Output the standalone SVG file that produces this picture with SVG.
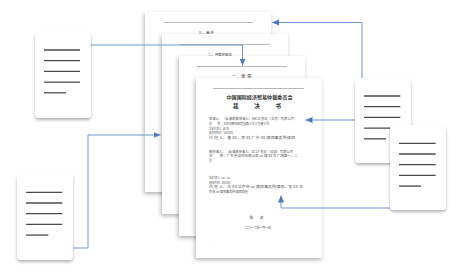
<svg xmlns="http://www.w3.org/2000/svg" width="450" height="270" viewBox="0 0 450 270">
  <style>
    .page { fill: #ffffff; filter: url(#pageShadow); }
    .rule { stroke: #b8b8b8; stroke-width: 1; }
    .head { font-family: "Noto Sans CJK SC", "Noto Sans", sans-serif; fill: #333333; text-anchor: middle; }
    .body { font-family: "Noto Sans CJK SC", "Noto Sans", sans-serif; font-size: 3.2px; fill: #555555; }
    .card { fill: #ffffff; filter: url(#cardShadow); }
    .bar { stroke: #4a4a4a; stroke-width: 1.3; stroke-linecap: butt; }
    .link { fill: none; stroke: #6f97d3; stroke-width: 1; }
  </style>
  <defs>
    <filter id="pageShadow" x="-20%" y="-20%" width="140%" height="140%">
      <feDropShadow dx="-1" dy="2" stdDeviation="2" flood-color="#000000" flood-opacity="0.3"/>
    </filter>
    <filter id="cardShadow" x="-30%" y="-30%" width="160%" height="160%">
      <feDropShadow dx="0" dy="2" stdDeviation="1.8" flood-color="#000000" flood-opacity="0.3"/>
    </filter>
    <marker id="arrow" viewBox="0 0 8 7" refX="8" refY="3.5" markerWidth="7" markerHeight="6.5" markerUnits="userSpaceOnUse" orient="auto">
      <path d="M0,0 L8,3.5 L0,7 z" fill="#4a7cc4"/>
    </marker>
  </defs>

  <!-- stacked award pages, back to front -->
  <g id="page-award">
    <rect class="page" x="145" y="12" width="126" height="180"/>
    <line class="rule" x1="164" y1="22.5" x2="253" y2="22.5"/>
    <text class="head" x="206" y="33.5" font-size="3.8">三、裁决</text>
  </g>
  <g id="page-opinion">
    <rect class="page" x="162" y="34" width="126" height="180"/>
    <line class="rule" x1="180" y1="44.5" x2="270" y2="44.5"/>
    <text class="head" x="220" y="55.5" font-size="3.4">二、仲裁庭意见</text>
  </g>
  <g id="page-facts">
    <rect class="page" x="179" y="56" width="126" height="180"/>
    <line class="rule" x1="197" y1="66.5" x2="287" y2="66.5"/>
    <text class="head" x="242" y="77.5" font-size="4" letter-spacing="0.6">一、案 情</text>
  </g>
  <g id="page-cover">
    <rect class="page" x="196" y="78" width="126" height="180"/>
    <line class="rule" x1="213" y1="88.5" x2="304" y2="88.5"/>
    <text class="head" x="259.5" y="99" font-size="5" font-weight="bold" textLength="66" lengthAdjust="spacingAndGlyphs">中国国际经济贸易仲裁委员会</text>
    <text class="head" x="257" y="107.5" font-size="5.5" font-weight="bold" textLength="48" lengthAdjust="spacing">裁 决 书</text>

    <text class="body" x="209" y="120.2" textLength="85" lengthAdjust="spacingAndGlyphs">申请人：（反请求被申请人）ABCD 贸易（北京）有限公司</text>
    <text class="body" x="209" y="124.9" textLength="60" lengthAdjust="spacingAndGlyphs">住　　所：北京市朝阳区建国路 X 号 X 号楼 X 号</text>
    <text class="body" x="209" y="129.6" textLength="20" lengthAdjust="spacingAndGlyphs">法定代表人：赵 XX</text>
    <text class="body" x="209" y="134.3" textLength="24" lengthAdjust="spacingAndGlyphs">组织机构代码：XXXXXXXX</text>
    <text class="body" x="209" y="139" textLength="86" lengthAdjust="spacingAndGlyphs">代 理 人：董 XX、李 XX 广东 XX 律师事务所律师</text>

    <text class="body" x="209" y="152.7" textLength="84" lengthAdjust="spacingAndGlyphs">被申请人：（反请求申请人）DCLF 贸易（深圳）有限公司</text>
    <text class="body" x="209" y="157.4" textLength="89" lengthAdjust="spacingAndGlyphs">住　　所：广东省深圳市南山区 xx 路 XX 号广场第一、二</text>
    <text class="body" x="209" y="162.1" textLength="3" lengthAdjust="spacingAndGlyphs">号</text>

    <text class="body" x="209" y="178.8" textLength="21" lengthAdjust="spacingAndGlyphs">法定代表人：xxx　xxx</text>
    <text class="body" x="209" y="183.5" textLength="21" lengthAdjust="spacingAndGlyphs">组织机构代码：XXXXXXXX</text>
    <text class="body" x="209" y="188.2" textLength="94" lengthAdjust="spacingAndGlyphs">代 理 人：王 XX 北京市 xx 律师事务所律师、张 XX 北</text>
    <text class="body" x="209" y="192.9" textLength="39" lengthAdjust="spacingAndGlyphs">京市 xx 律师事务所律师助理</text>

    <text class="head" x="258" y="218.5" font-size="3.4" letter-spacing="3">陈 述</text>
    <text class="head" x="258" y="228.8" font-size="3.4" textLength="26" lengthAdjust="spacingAndGlyphs">二〇一六年一月一日</text>
    <text class="body" x="210" y="242.5" fill="#999999">-</text>
  </g>

  <!-- connectors -->
  <g id="connectors">
    <path class="link" d="M91,45 H242.5 V65.5" marker-end="url(#arrow)"/>
    <path class="link" d="M73,248 H88 V135 H160.5" marker-end="url(#arrow)"/>
    <path class="link" d="M362,78 V22.5 H272" marker-end="url(#arrow)"/>
    <path class="link" d="M355,120 H305.5" marker-end="url(#arrow)"/>
    <path class="link" d="M390,208 H281 V195.5" marker-end="url(#arrow)"/>
  </g>

  <!-- source document cards -->
  <g id="doc-a">
    <rect class="card" x="35" y="32" width="56" height="86" rx="4"/>
    <line class="bar" x1="44" y1="50" x2="80" y2="50"/>
    <line class="bar" x1="44" y1="60.7" x2="80" y2="60.7"/>
    <line class="bar" x1="44" y1="71.4" x2="80" y2="71.4"/>
    <line class="bar" x1="44" y1="82.1" x2="80" y2="82.1"/>
    <line class="bar" x1="44" y1="92.8" x2="66" y2="92.8"/>
  </g>
  <g id="doc-b">
    <rect class="card" x="17" y="174" width="56" height="86" rx="4"/>
    <line class="bar" x1="26" y1="192.3" x2="62.3" y2="192.3"/>
    <line class="bar" x1="26" y1="203" x2="62.3" y2="203"/>
    <line class="bar" x1="26" y1="213.7" x2="62.3" y2="213.7"/>
    <line class="bar" x1="26" y1="224.4" x2="62.3" y2="224.4"/>
    <line class="bar" x1="26" y1="235.1" x2="48.3" y2="235.1"/>
  </g>
  <g id="doc-c">
    <rect class="card" x="355" y="78" width="56" height="85" rx="4"/>
    <line class="bar" x1="364" y1="96" x2="400.3" y2="96"/>
    <line class="bar" x1="364" y1="106.7" x2="400.3" y2="106.7"/>
    <line class="bar" x1="364" y1="117.4" x2="400.3" y2="117.4"/>
    <line class="bar" x1="364" y1="128.1" x2="400.3" y2="128.1"/>
    <line class="bar" x1="364" y1="138.8" x2="386" y2="138.8"/>
  </g>
  <g id="doc-d">
    <rect class="card" x="390" y="125" width="56" height="85" rx="4"/>
    <line class="bar" x1="399" y1="143.3" x2="435.7" y2="143.3"/>
    <line class="bar" x1="399" y1="154" x2="435.7" y2="154"/>
    <line class="bar" x1="399" y1="164.7" x2="435.7" y2="164.7"/>
    <line class="bar" x1="399" y1="175.4" x2="435.7" y2="175.4"/>
    <line class="bar" x1="399" y1="186.1" x2="421" y2="186.1"/>
  </g>
</svg>
